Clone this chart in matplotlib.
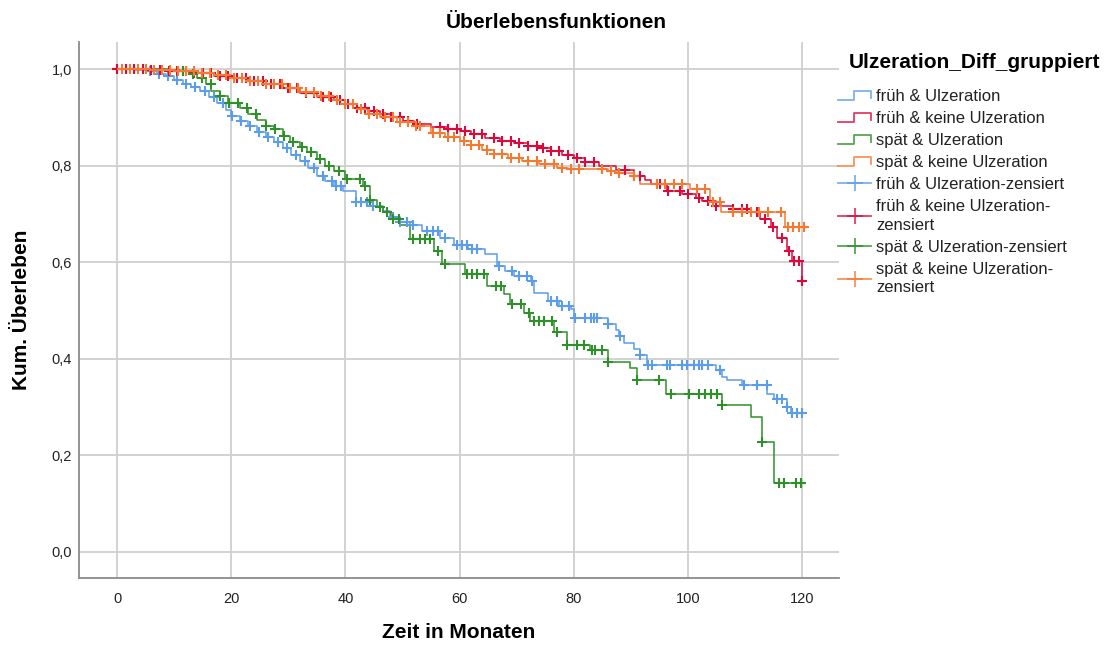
import numpy as np
import matplotlib.pyplot as plt
from matplotlib.lines import Line2D
from matplotlib.legend_handler import HandlerBase
from matplotlib.ticker import FuncFormatter

plt.rcParams['font.family'] = ['Liberation Sans', 'DejaVu Sans']

# Kaplan-Meier Stufen (Zeit in Monaten, kum. Überleben) je Gruppe
blue_t = [0, 3, 5, 7, 8.6, 10, 11.5, 13, 14.5, 16, 17.5, 19, 20, 21.5, 23, 24.5, 26,
          27.5, 29, 30.5, 32, 33.5, 35, 36.5, 38, 39.5, 41.9, 44.9, 46.5, 47.8, 49.5,
          51.3, 53.5, 56.5, 59, 61.5, 64.5, 66.6, 68, 69.5, 72.5, 73, 75.5, 77.5, 79.5,
          80, 86, 87.5, 88, 88.8, 90.5, 91.7, 92.9, 104.9, 106, 106.9, 109.5, 113.9,
          115.1, 117.4, 118]
blue_s = [1.0, 0.998, 0.995, 0.99, 0.986, 0.978, 0.97, 0.962, 0.955, 0.942, 0.93, 0.915,
          0.903, 0.893, 0.882, 0.87, 0.859, 0.848, 0.836, 0.822, 0.81, 0.795, 0.779,
          0.768, 0.757, 0.748, 0.724, 0.717, 0.705, 0.693, 0.683, 0.676, 0.665, 0.65,
          0.636, 0.628, 0.617, 0.593, 0.582, 0.572, 0.562, 0.537, 0.52, 0.51, 0.503,
          0.485, 0.471, 0.459, 0.447, 0.433, 0.42, 0.408, 0.387, 0.377, 0.363, 0.356,
          0.346, 0.328, 0.316, 0.30, 0.288]
blue_end = 120.3
blue_cens = [0, 5.7, 7.3, 8.9, 10.5, 12.1, 13.7, 15.3, 16.9, 18.5, 20.1, 21.7, 23.3, 24.9,
             26.5, 28.1, 29.7, 31.3, 32.9, 34.5, 36.1, 37.7, 38.4, 39.3, 41.9, 42.8, 43.7,
             44.9, 48.4, 49.6, 50.7, 51.9, 54.3, 55.4, 56.3, 57.5, 59.5, 60.4, 61.3, 62.2,
             63.1, 66.9, 69.2, 70.4, 71.8, 72.7, 76, 77.1, 78, 79.2, 80.2, 82, 83, 83.5,
             84.1, 86.1, 88.2, 91.7, 93.1, 93.7, 96.3, 96.9, 99, 99.9, 101, 101.9, 102.5,
             103.6, 105.7, 109.8, 112.1, 113.8, 115.6, 116.5, 117.4, 118.3, 119.1, 120]

red_t = [0, 5, 9, 13, 17, 20, 23, 26, 29, 32, 35, 38, 40, 42, 44, 46, 48, 50, 52, 55, 58,
         60, 62, 64.5, 67, 69.5, 72, 74.5, 76, 78, 80, 82, 84.5, 87.5, 90.5, 92.5, 93.5,
         96.4, 99, 101.5, 102.5, 105, 108, 111, 112.7, 114.5, 115.7, 117.4, 118.3, 120]
red_s = [1.0, 0.998, 0.995, 0.991, 0.986, 0.981, 0.975, 0.968, 0.96, 0.951, 0.943, 0.935,
         0.928, 0.92, 0.913, 0.906, 0.9, 0.893, 0.886, 0.879, 0.875, 0.871, 0.866, 0.858,
         0.852, 0.846, 0.841, 0.836, 0.83, 0.822, 0.815, 0.808, 0.8, 0.79, 0.779, 0.77,
         0.762, 0.748, 0.741, 0.733, 0.727, 0.717, 0.71, 0.703, 0.689, 0.672, 0.651,
         0.624, 0.603, 0.562]
red_end = 120
red_cens = [0, 1.5, 3, 4.5, 6, 7.5, 9, 10.5, 12, 13.5, 15, 16.5, 18, 19.5, 21, 22.5, 24,
            25.5, 27, 28.5, 30, 31.5, 33, 34.5, 36, 37.5, 39, 40.5, 42, 43.5, 45, 46.5, 48,
            49.6, 51, 52.5, 56.6, 58, 59.5, 61, 62.5, 64, 66, 67.5, 69, 70.5, 72, 73.5,
            74.7, 76, 77.5, 79, 80.5, 82, 83.5, 89, 90.5, 91.7, 95.2, 96.5, 98.7, 100, 102,
            103.5, 105, 108, 109.5, 110.4, 112.2, 113.5, 115, 116.5, 117.7, 118.6, 119.5, 120]

green_t = [0, 9, 11, 12.5, 14, 15.5, 16.5, 18, 19.5, 21.5, 23, 24.5, 26, 27.5, 29, 30.3,
           32, 33.2, 35, 36.5, 38, 40, 43, 44.3, 45.5, 46.6, 48, 49.6, 51.3, 55.5, 57, 61,
           64.8, 67.7, 68.9, 71.3, 72.4, 76.5, 78.8, 82.9, 86.1, 89.9, 91.1, 96.1, 106,
           111, 113, 115.1]
green_s = [1.0, 0.998, 0.995, 0.99, 0.982, 0.968, 0.955, 0.945, 0.93, 0.92, 0.907, 0.895,
           0.883, 0.875, 0.862, 0.848, 0.838, 0.828, 0.814, 0.8, 0.788, 0.772, 0.757,
           0.728, 0.715, 0.703, 0.69, 0.676, 0.648, 0.624, 0.597, 0.576, 0.55, 0.535,
           0.514, 0.494, 0.479, 0.455, 0.429, 0.419, 0.394, 0.381, 0.356, 0.328, 0.304,
           0.28, 0.228, 0.142]
green_end = 120
green_cens = [11.6, 13.2, 14.8, 16.4, 18, 19.6, 21.2, 22.8, 24.4, 26, 27.6, 29.2, 30.8,
              32.4, 34, 35.6, 37.2, 38.8, 40.2, 42.5, 43.4, 44.3, 46, 47.2, 48.4, 49.3,
              51.9, 53.1, 54, 54.8, 56.3, 57.5, 61.3, 62.2, 63.1, 64.2, 66.3, 67.2, 69.2,
              70.7, 72.1, 73, 73.9, 74.8, 76.2, 77.1, 78.8, 80.6, 81.8, 83.2, 83.8, 85,
              86.1, 91.1, 94.9, 97, 100.2, 101.9, 103.1, 104, 105.1, 106, 113, 116, 116.8,
              118.9, 119.8]

orange_t = [0, 6, 10, 14, 17, 20, 23, 26, 29, 32, 35, 38, 40, 42, 44, 46, 49, 52, 55,
            57.5, 60, 62, 64, 66, 68.5, 71, 74, 77, 79, 86, 88, 90.5, 91.6, 100.3, 103.9,
            105.9, 117]
orange_s = [1.0, 0.998, 0.996, 0.992, 0.987, 0.982, 0.976, 0.969, 0.961, 0.952, 0.944,
            0.936, 0.928, 0.918, 0.906, 0.9, 0.891, 0.882, 0.868, 0.86, 0.852, 0.843,
            0.832, 0.824, 0.815, 0.81, 0.803, 0.795, 0.792, 0.789, 0.784, 0.779, 0.762,
            0.751, 0.724, 0.703, 0.672]
orange_end = 120.5
orange_cens = [0.8, 2.2, 3.6, 5, 6.4, 7.8, 9.2, 10.6, 12, 13.4, 14.8, 16.2, 17.6, 19, 20.4,
               21.8, 23.2, 24.6, 26, 27.4, 28.8, 30.2, 31.6, 33, 34.4, 35.8, 37.2, 38.6,
               40, 41.4, 42.8, 44.2, 45.6, 47, 48.4, 49.6, 51, 52.4, 53.1, 55.4, 56.6, 58,
               59, 60.7, 62, 63.4, 64.8, 66, 67.5, 69, 70.5, 72, 73.5, 75, 76.5, 78, 79.5,
               81, 85, 86.5, 88, 90.5, 94.6, 96, 97.5, 99, 101.6, 103, 104.5, 105.7, 108,
               109.5, 111, 112.5, 114, 116.3, 117.6, 118.5, 119.5, 120.3]

groups = ['früh & Ulzeration', 'früh & keine Ulzeration',
          'spät & Ulzeration', 'spät & keine Ulzeration']
cens_labels = ['früh & Ulzeration-zensiert', 'früh & keine Ulzeration-\nzensiert',
               'spät & Ulzeration-zensiert', 'spät & keine Ulzeration-\nzensiert']
colors = ['#5b9de8', '#dc0a3c', '#2f8f2a', '#f47a32']

curves = [(blue_t, blue_s, blue_end, blue_cens),
          (red_t, red_s, red_end, red_cens),
          (green_t, green_s, green_end, green_cens),
          (orange_t, orange_s, orange_end, orange_cens)]


def surv_at(t, s, x):
    idx = np.searchsorted(t, x, side='right') - 1
    return np.asarray(s)[idx]


class StepHandler(HandlerBase):
    def create_artists(self, legend, orig_handle, xdescent, ydescent,
                       width, height, fontsize, trans):
        x = np.array([0, 0.48, 0.48, 1.0, 1.0]) * width - xdescent
        y = np.array([0.1, 0.1, 0.9, 0.9, 0.3]) * height - ydescent
        ln = Line2D(x, y, color=orig_handle.get_color(), lw=1.3, alpha=0.8)
        ln.set_transform(trans)
        return [ln]


fig = plt.figure(figsize=(11.12, 6.45), dpi=100)
ax = fig.add_axes([79 / 1112, 1 - 578 / 645, 760 / 1112, 536 / 645])

line_handles = []
for (t, s, end, cens), c in zip(curves, colors):
    tt = np.append(t, end)
    ss = np.append(s, s[-1])
    h, = ax.step(tt, ss, where='post', color=c, lw=1.1, zorder=3)
    line_handles.append(h)

cens_handles = []
for (t, s, end, cens), c in zip(curves, colors):
    cy = surv_at(np.array(t), s, np.array(cens))
    ax.plot(cens, cy, ls='none', marker='+', ms=7, mew=1.5, color=c, zorder=4)
    cens_handles.append(Line2D([], [], color=c, marker='+', ms=12, mew=1.3,
                               lw=1.3, alpha=0.8))

ax.set_xlim(-6.7, 126.5)
ax.set_ylim(-0.054, 1.056)
ax.set_xticks(np.arange(0, 121, 20))
ax.set_yticks(np.arange(0, 1.01, 0.2))
ax.yaxis.set_major_formatter(FuncFormatter(lambda v, p: f'{v:.1f}'.replace('.', ',')))
ax.grid(True, color='#cfcfcf', lw=1.3, zorder=0)
ax.set_axisbelow(True)
ax.tick_params(length=0, labelsize=10.5, colors='#222222')
ax.tick_params(axis='x', pad=10)
ax.tick_params(axis='y', pad=5)
for sp in ['top', 'right']:
    ax.spines[sp].set_visible(False)
for sp in ['left', 'bottom']:
    ax.spines[sp].set_color('#8a8a8a')
    ax.spines[sp].set_linewidth(1.3)

ax.set_xlabel('Zeit in Monaten', fontsize=15, fontweight='bold', va='center')
ax.set_ylabel('Kum. Überleben', fontsize=15, fontweight='bold', va='center')
ax.xaxis.set_label_coords(0.5, (578 - 633) / 536)
ax.yaxis.set_label_coords((22 - 79) / 760, 0.5)

fig.text(0.5, 1 - 22 / 645, 'Überlebensfunktionen', ha='center', va='center',
         fontsize=15, fontweight='bold')
fig.text(849 / 1112, 1 - 62 / 645, 'Ulzeration_Diff_gruppiert', ha='left', va='center',
         fontsize=15, fontweight='bold')

handler_map = {h: StepHandler() for h in line_handles}
leg = fig.legend(line_handles + cens_handles, groups + cens_labels,
                 loc='upper left', bbox_to_anchor=(838 / 1112, 1 - 89 / 645),
                 frameon=False, fontsize=12, handlelength=2.0, handletextpad=0.3,
                 labelspacing=0.42, borderpad=0, borderaxespad=0,
                 handler_map=handler_map)
for txt in leg.get_texts():
    txt.set_color('#222222')
    txt.set_linespacing(1.3)

fig.savefig('out.png', dpi=100)
